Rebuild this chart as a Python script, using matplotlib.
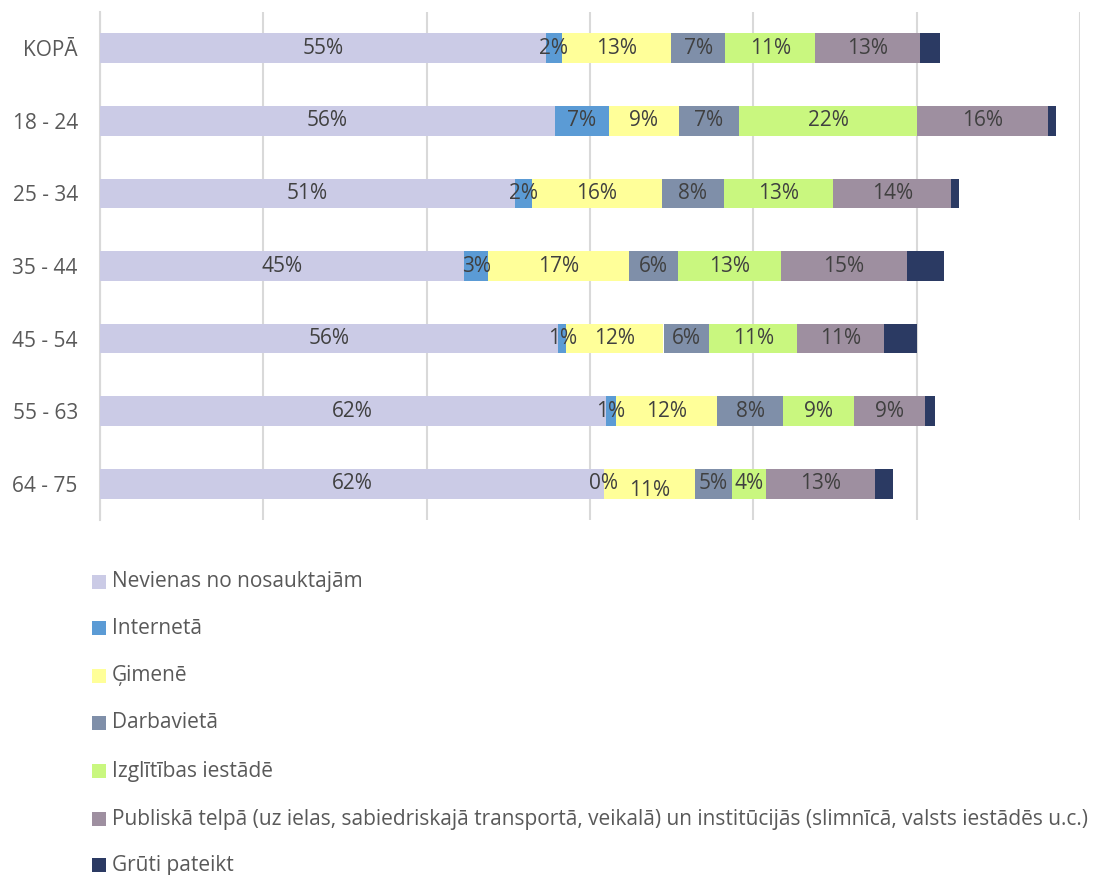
import matplotlib
matplotlib.use("Agg")
import matplotlib.pyplot as plt
from matplotlib.patches import Rectangle

plt.rcParams['font.family'] = ['Open Sans', 'DejaVu Sans']

categories = ["KOPĀ", "18 - 24", "25 - 34", "35 - 44", "45 - 54", "55 - 63", "64 - 75"]
series_names = [
    "Nevienas no nosauktajām",
    "Internetā",
    "Ģimenē",
    "Darbavietā",
    "Izglītības iestādē",
    "Publiskā telpā (uz ielas, sabiedriskajā transportā, veikalā) un institūcijās (slimnīcā, valsts iestādēs u.c.)",
    "Grūti pateikt",
]
nevienas   = [54.6, 55.7, 50.8, 44.6, 56.1, 61.9, 61.7]
interneta  = [1.96, 6.6, 2.1, 2.9, 1.0, 1.3, 0.0]
gimene     = [13.4, 8.6, 15.9, 17.3, 11.9, 12.4, 11.1]
darbavieta = [6.6, 7.3, 7.6, 6.0, 5.6, 8.0, 4.6]
izglitiba  = [11.0, 21.9, 13.4, 12.6, 10.8, 8.7, 4.1]
publiska   = [12.9, 16.0, 14.4, 15.4, 10.6, 8.7, 13.4]
gruti      = [2.45, 1.0, 1.0, 4.5, 4.1, 1.2, 2.2]
colors = ["#CBCBE6", "#5B9BD5", "#FFFF99", "#7F8FA9", "#C9F77F", "#9E8FA0", "#2B3A63"]
show_labels = [True, True, True, True, True, True, False]

data = [nevienas, interneta, gimene, darbavieta, izglitiba, publiska, gruti]

fig = plt.figure(figsize=(10.96, 8.75), dpi=100)
ax = fig.add_axes([100/1096, 1 - 520/875, 980/1096, 508/875])

y = list(range(len(categories)))
left = [0.0] * len(categories)
for vals, col, name, show in zip(data, colors, series_names, show_labels):
    ax.barh(y, vals, left=left, height=0.41, color=col, label=name, zorder=3)
    if show:
        for i, (l, v) in enumerate(zip(left, vals)):
            dy = 0
            if name == "Ģimenē" and categories[i] == "64 - 75":
                dy = 0.1
            ax.text(l + v / 2, i + dy, f"{round(v):.0f}%", ha="center", va="center",
                    fontsize=15, color="#404040", zorder=4)
    left = [a + b for a, b in zip(left, vals)]

ax.set_xlim(0, 120)
ax.set_ylim(6.5, -0.5)
ax.set_xticks(range(0, 121, 20))
ax.set_xticklabels([])
ax.tick_params(axis="x", length=0)
ax.tick_params(axis="y", length=0, pad=16, labelsize=15, labelcolor="#595959")
ax.set_yticks(y)
ax.set_yticklabels(categories)
ax.grid(axis="x", color="#D9D9D9", linewidth=1.5, zorder=0)
for s in ["top", "right", "bottom"]:
    ax.spines[s].set_visible(False)
ax.spines["left"].set_color("#D9D9D9")
ax.spines["left"].set_linewidth(1.5)

# legend
leg_y = [582, 628, 676, 723, 771, 819, 865]
for name, col, yy in zip(series_names, colors, leg_y):
    fig.patches.append(Rectangle((92/1096, 1 - (yy + 7)/875), 14/1096, 14/875,
                                 transform=fig.transFigure, facecolor=col, edgecolor="none"))
    fig.text(112/1096, 1 - yy/875, name, ha="left", va="center", fontsize=15, color="#595959")

fig.savefig("out.png", dpi=100)
